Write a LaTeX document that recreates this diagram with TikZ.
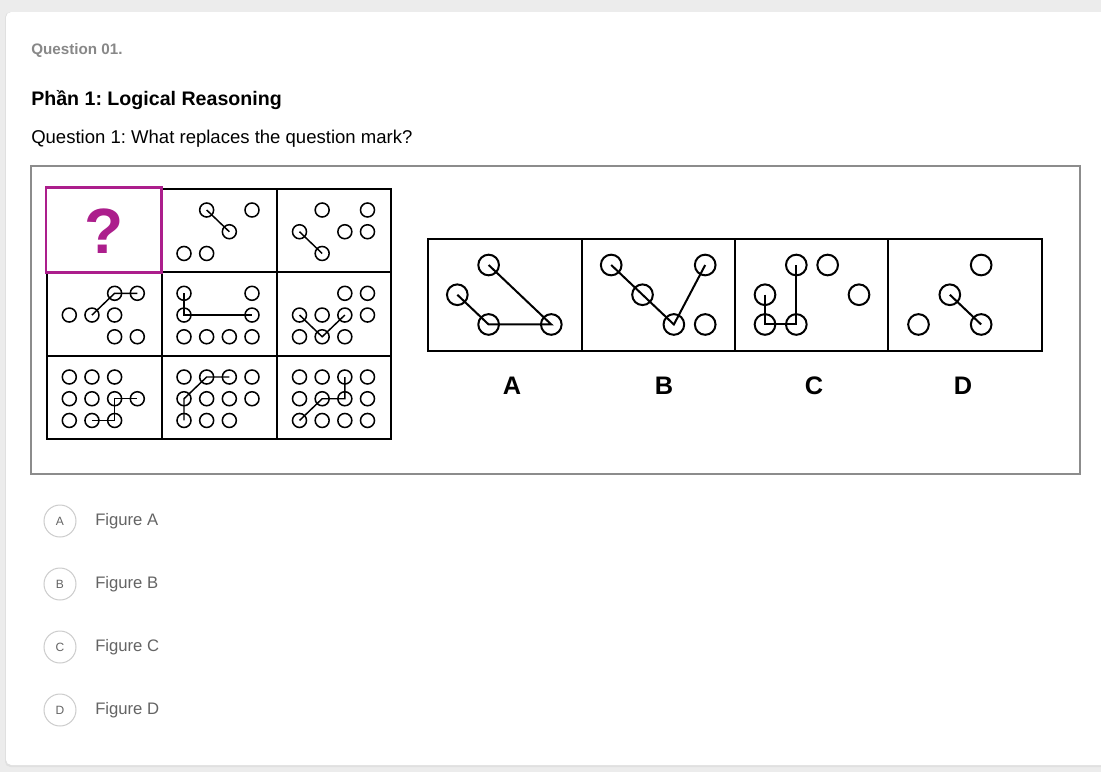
\documentclass[tikz,border=0pt]{standalone}
\usepackage{fontspec}
\setmainfont{Liberation Sans}
\usetikzlibrary{calc}
\frenchspacing
\definecolor{qpurple}{RGB}{172,30,140}
\definecolor{pagegray}{RGB}{236,236,236}
\definecolor{headgray}{RGB}{136,136,136}
\definecolor{optgray}{RGB}{100,100,100}
\def\fsz#1{\fontsize{#1}{#1}\selectfont}
\tikzset{
  sdot/.style={circle, draw, line width=1.15pt, minimum size=10.5pt, inner sep=0pt},
  bdot/.style={circle, draw, line width=1.5pt, minimum size=15.5pt, inner sep=0pt},
  link/.style={line width=1.1pt},
  blink/.style={line width=1.5pt},
  head/.style={anchor=base west, inner sep=0pt},
  optcirc/.style={circle, draw=black!20, line width=0.75pt, minimum size=24pt, inner sep=0pt, text=optgray, font=\fsz{9}},
  opttext/.style={anchor=west, inner sep=0pt, text=optgray, font=\fsz{12.5}},
  anslbl/.style={font=\bfseries\fsz{19}},
}
\begin{document}
\begin{tikzpicture}[x=0.75pt, y=-0.75pt]
			%%%%% START %%%%%
			\useasboundingbox (0,0) rectangle (1101,772);
			\fill[pagegray] (0,0) rectangle (1101,772);
			\fill[black!12, rounded corners=4pt] (5,12) rectangle (1110,767);
			\fill[white, rounded corners=4pt] (6,12) rectangle (1110,765);
			
			\node[head, text=headgray, font=\bfseries\fsz{11.4}] (qnum) at (31,54) {Question 01.};
			\node[head, font=\bfseries\fsz{14.7}] (part) at (31,105) {Phần 1: Logical Reasoning};
			\node[head, font=\fsz{13.9}] (qtext) at (31,143) {Question 1: What replaces the question mark?};
			
			\draw[black!45, line width=0.9pt] (31,166) rectangle (1080,474);
			
			% matrix of cells
			\draw[line width=1.4pt] (47,189) rectangle (391,439);
			\draw[line width=1.4pt] (162,189) -- (162,439);
			\draw[line width=1.4pt] (277,189) -- (277,439);
			\draw[line width=1.4pt] (47,272) -- (391,272);
			\draw[line width=1.4pt] (47,356) -- (391,356);
			\fill[white] (45,187) rectangle (162,273);
			\draw[qpurple, line width=2.2pt] (46,187.5) rectangle (161.5,272.5);
			\node[text=qpurple, font=\bfseries\fsz{48}] (qmark) at (104,231) {?};
			
			% row 1, middle
			\begin{scope}[shift={(184,210)}, x=17pt, y=-16.3pt]
				\foreach \i/\j in {1/0,2/1,3/0,0/2,1/2}
					\node[sdot] (m\i\j) at (\i,\j) {};
				\draw[link] (m10.center) -- (m21.center);
			\end{scope}
			% row 1, right
			\begin{scope}[shift={(299.5,210)}, x=17pt, y=-16.3pt]
				\foreach \i/\j in {1/0,3/0,0/1,2/1,3/1,1/2}
					\node[sdot] (r\i\j) at (\i,\j) {};
				\draw[link] (r01.center) -- (r12.center);
			\end{scope}
			% row 2, left
			\begin{scope}[shift={(69.3,293.3)}, x=17pt, y=-16.3pt]
				\foreach \i/\j in {2/0,3/0,0/1,1/1,2/1,2/2,3/2}
					\node[sdot] (s\i\j) at (\i,\j) {};
				\draw[link] (s11.center) -- (s20.center) -- (s30.center);
			\end{scope}
			% row 2, middle
			\begin{scope}[shift={(184,293.3)}, x=17pt, y=-16.3pt]
				\foreach \i/\j in {0/0,3/0,0/1,3/1,0/2,1/2,2/2,3/2}
					\node[sdot] (t\i\j) at (\i,\j) {};
				\draw[link] (t00.center) -- (t01.center) -- (t31.center);
			\end{scope}
			% row 2, right
			\begin{scope}[shift={(299.5,293.3)}, x=17pt, y=-16.3pt]
				\foreach \i/\j in {2/0,3/0,0/1,1/1,2/1,3/1,0/2,1/2,2/2}
					\node[sdot] (u\i\j) at (\i,\j) {};
				\draw[link] (u01.center) -- (u12.center) -- (u21.center);
			\end{scope}
			% row 3, left
			\begin{scope}[shift={(69.3,377)}, x=17pt, y=-16.3pt]
				\foreach \i/\j in {0/0,1/0,2/0,0/1,1/1,2/1,3/1,0/2,1/2,2/2}
					\node[sdot] (v\i\j) at (\i,\j) {};
				\draw[link] (v12.center) -- (v22.center) -- (v21.center) -- (v31.center);
			\end{scope}
			% row 3, middle
			\begin{scope}[shift={(184,377)}, x=17pt, y=-16.3pt]
				\foreach \i/\j in {0/0,1/0,2/0,3/0,0/1,1/1,2/1,3/1,0/2,1/2,2/2}
					\node[sdot] (w\i\j) at (\i,\j) {};
				\draw[link] (w02.center) -- (w01.center) -- (w10.center) -- (w20.center);
			\end{scope}
			% row 3, right
			\begin{scope}[shift={(299.5,377)}, x=17pt, y=-16.3pt]
				\foreach \i in {0,...,3}
					\foreach \j in {0,1,2}
						\node[sdot] (z\i\j) at (\i,\j) {};
				\draw[link] (z02.center) -- (z11.center) -- (z21.center) -- (z20.center);
			\end{scope}
			
			% answer figures
			\draw[line width=1.4pt] (428,239) rectangle (1042,351);
			\draw[line width=1.4pt] (582,239) -- (582,351);
			\draw[line width=1.4pt] (735,239) -- (735,351);
			\draw[line width=1.4pt] (888,239) -- (888,351);
			
			\begin{scope}[shift={(457.3,265)}, x=23.5pt, y=-22.3pt]
				\foreach \i/\j in {1/0,0/1,1/2,3/2}
					\node[bdot] (a\i\j) at (\i,\j) {};
				\draw[blink] (a01.center) -- (a12.center) -- (a32.center) -- (a10.center);
			\end{scope}
			\begin{scope}[shift={(611.2,265)}, x=23.5pt, y=-22.3pt]
				\foreach \i/\j in {0/0,1/1,2/2,3/2,3/0}
					\node[bdot] (b\i\j) at (\i,\j) {};
				\draw[blink] (b00.center) -- (b11.center) -- (b22.center) -- (b30.center);
			\end{scope}
			\begin{scope}[shift={(765,265)}, x=23.5pt, y=-22.3pt]
				\foreach \i/\j in {1/0,2/0,0/1,3/1,0/2,1/2}
					\node[bdot] (c\i\j) at (\i,\j) {};
				\draw[blink] (c01.center) -- (c02.center) -- (c12.center) -- (c10.center);
			\end{scope}
			\begin{scope}[shift={(918.5,265)}, x=23.5pt, y=-22.3pt]
				\foreach \i/\j in {2/0,1/1,0/2,2/2}
					\node[bdot] (d\i\j) at (\i,\j) {};
				\draw[blink] (d11.center) -- (d22.center);
			\end{scope}
			
			\node[anslbl] (la) at (512,386) {A};
			\node[anslbl] (lb) at (664,386) {B};
			\node[anslbl] (lc) at (814,386) {C};
			\node[anslbl] (ld) at (963,386) {D};
			
			% options
			\foreach \k/\y in {A/521,B/584,C/647,D/710}{
				\node[optcirc] (o\k) at (60,\y) {\k};
				\node[opttext] (f\k) at (95,\y) {Figure \k};
			}
			%%%%% END %%%%%
\end{tikzpicture}
\end{document}
